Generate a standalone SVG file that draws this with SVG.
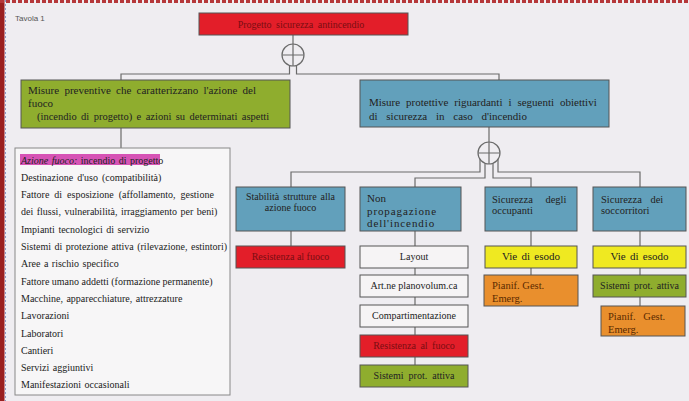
<svg xmlns="http://www.w3.org/2000/svg" width="689" height="401" viewBox="0 0 689 401">
<defs>
<style>
.box{stroke:#555;stroke-width:1}
.red{fill:#e31e29}
.green{fill:#8fad2e}
.blue{fill:#62a0bb}
.white{fill:#f6f4f5}
.yellow{fill:#efe921}
.orange{fill:#e98f2d}
.t{font-family:"Liberation Serif","Times New Roman",serif;font-size:10px;fill:#222}
.m{text-anchor:middle}
.dr{fill:#7a0d12}
.br{fill:#5a2a00}
.li{word-spacing:1px}
.ln{fill:none;stroke:#6a6a6a;stroke-width:1.2}
</style>
</defs>
<rect x="0" y="0" width="689" height="401" fill="#efedf1"/>
<rect x="0" y="0" width="4.5" height="401" fill="#9a1f1f"/>
<line x1="5.5" y1="0" x2="5.5" y2="401" stroke="#8c9ac8" stroke-width="1" stroke-dasharray="2,2"/>
<line x1="0" y1="1.5" x2="689" y2="1.5" stroke="#b5373a" stroke-width="3" stroke-dasharray="4,2"/>
<text x="15" y="21" font-family="Liberation Sans, Arial, sans-serif" font-size="8" fill="#555">Tavola 1</text>

<g id="connectors">
<path class="ln" d="M293,35 V44"/>
<circle class="ln" cx="293" cy="55" r="11"/>
<path class="ln" d="M282,55 H304 M293,44 V66"/>
<path class="ln" d="M289.5,65.4 V74 H121 V80"/>
<path class="ln" d="M296.5,65.4 V74 H499 V80"/>
<path class="ln" d="M121,128 V148"/>
<path class="ln" d="M489,127 V142"/>
<circle class="ln" cx="489" cy="153" r="11"/>
<path class="ln" d="M478,153 H500 M489,142 V164"/>
<path class="ln" d="M480,159.3 V172 H291 V187"/>
<path class="ln" d="M485,163.2 V178 H415 V187"/>
<path class="ln" d="M493,163.2 V178 H531 V187"/>
<path class="ln" d="M498,159.3 V172 H640 V187"/>
<path class="ln" d="M291,231 V246"/>
<path class="ln" d="M415,231 V365"/>
<path class="ln" d="M531,231 V275"/>
<path class="ln" d="M640,231 V306"/>
</g>

<g id="n-progetto">
<rect class="box red" x="199" y="13" width="209" height="22"/>
<text class="t m dr" x="301" y="27.5" style="word-spacing:2px">Progetto sicurezza antincendio</text>
</g>

<g id="n-preventive">
<rect class="box green" x="21" y="80" width="269" height="48"/>
<text class="t" x="28" y="94" style="font-size:11px;word-spacing:2.5px">Misure preventive che caratterizzano l'azione del</text>
<text class="t" x="28" y="107" style="font-size:11px">fuoco</text>
<text class="t" x="37" y="120" style="font-size:10.5px;word-spacing:1.8px">(incendio di progetto) e azioni su determinati aspetti</text>
</g>

<g id="n-protettive">
<rect class="box blue" x="360" y="80" width="249" height="47"/>
<text class="t" x="369" y="106" style="font-size:11px;word-spacing:3.2px">Misure protettive riguardanti i seguenti obiettivi</text>
<text class="t" x="369" y="120" style="font-size:11px;word-spacing:6px">di sicurezza in caso d'incendio</text>
</g>

<g id="n-lista">
<rect x="15" y="148" width="215" height="247" fill="#f7f6f7" stroke="#888" stroke-width="1"/>
<rect x="20" y="154" width="140" height="11" fill="#d653b5"/>
<text class="t li" x="21" y="163.5"><tspan font-style="italic">Azione fuoco:</tspan> incendio di progetto</text>
<text class="t li" x="21" y="180.8" style="word-spacing:1.5px">Destinazione d'uso (compatibilità)</text>
<text class="t li" x="21" y="198.1" style="word-spacing:2.5px">Fattore di esposizione (affollamento, gestione</text>
<text class="t li" x="21" y="215.4">dei flussi, vulnerabilità, irraggiamento per beni)</text>
<text class="t li" x="21" y="232.7">Impianti tecnologici di servizio</text>
<text class="t li" x="21" y="250">Sistemi di protezione attiva (rilevazione, estintori)</text>
<text class="t li" x="21" y="267.3">Aree a rischio specifico</text>
<text class="t li" x="21" y="284.6" style="word-spacing:0">Fattore umano addetti (formazione permanente)</text>
<text class="t li" x="21" y="301.9">Macchine, apparecchiature, attrezzature</text>
<text class="t li" x="21" y="319.2">Lavorazioni</text>
<text class="t li" x="21" y="336.5">Laboratori</text>
<text class="t li" x="21" y="353.8">Cantieri</text>
<text class="t li" x="21" y="371.1">Servizi aggiuntivi</text>
<text class="t li" x="21" y="388.4">Manifestazioni occasionali</text>
</g>

<g id="n-stabilita">
<rect class="box blue" x="236" y="187" width="109" height="44"/>
<text class="t m" x="290.5" y="200" style="word-spacing:1.5px">Stabilità strutture alla</text>
<text class="t m" x="290.5" y="211">azione fuoco</text>
</g>
<g id="n-nonprop">
<rect class="box blue" x="360" y="187" width="101" height="44"/>
<text class="t" x="367" y="202" style="font-size:11px">Non</text>
<text class="t" x="367" y="214.5" style="font-size:11px;letter-spacing:0.9px">propagazione</text>
<text class="t" x="367" y="227" style="font-size:11px;letter-spacing:0.9px">dell'incendio</text>
</g>
<g id="n-occupanti">
<rect class="box blue" x="485" y="187" width="92" height="44"/>
<text class="t" x="492" y="203" style="font-size:10.5px;word-spacing:10px">Sicurezza degli</text>
<text class="t" x="492" y="214" style="font-size:10.5px">occupanti</text>
</g>
<g id="n-soccorritori">
<rect class="box blue" x="593" y="187" width="93" height="44"/>
<text class="t" x="601" y="203" style="font-size:10.5px;word-spacing:6px">Sicurezza dei</text>
<text class="t" x="601" y="214" style="font-size:10.5px">soccorritori</text>
</g>

<g id="n-resA">
<rect class="box red" x="236" y="246" width="109" height="22"/>
<text class="t m dr" x="290.5" y="260">Resistenza al fuoco</text>
</g>
<g id="n-layout">
<rect class="box white" x="360" y="246" width="108" height="22"/>
<text class="t m" x="414" y="260">Layout</text>
</g>
<g id="n-artne">
<rect class="box white" x="360" y="275" width="108" height="22"/>
<text class="t m" x="414" y="289">Art.ne planovolum.ca</text>
</g>
<g id="n-compart">
<rect class="box white" x="360" y="305" width="108" height="22"/>
<text class="t m" x="414" y="319">Compartimentazione</text>
</g>
<g id="n-resB">
<rect class="box red" x="360" y="335" width="108" height="22"/>
<text class="t m dr" x="414" y="349" style="word-spacing:2px">Resistenza al fuoco</text>
</g>
<g id="n-sistB">
<rect class="box green" x="360" y="365" width="108" height="22"/>
<text class="t m" x="414" y="379" style="word-spacing:2.5px">Sistemi prot. attiva</text>
</g>

<g id="n-vieC">
<rect class="box yellow" x="485" y="246" width="92" height="22"/>
<text class="t m" x="531" y="260" style="font-size:11px;word-spacing:1.5px">Vie di esodo</text>
</g>
<g id="n-pianC">
<rect class="box orange" x="484" y="275" width="94" height="31"/>
<text class="t br" x="492" y="289" style="font-size:10.5px">Pianif. Gest.</text>
<text class="t br" x="492" y="302" style="font-size:10.5px">Emerg.</text>
</g>

<g id="n-vieD">
<rect class="box yellow" x="593" y="246" width="93" height="22"/>
<text class="t m" x="639.5" y="260" style="font-size:11px;word-spacing:1.5px">Vie di esodo</text>
</g>
<g id="n-sistD">
<rect class="box green" x="593" y="275" width="93" height="22"/>
<text class="t m" x="639.5" y="289" style="word-spacing:1.5px">Sistemi prot. attiva</text>
</g>
<g id="n-pianD">
<rect class="box orange" x="601" y="306" width="84" height="30"/>
<text class="t br" x="608" y="320" style="font-size:10.5px;word-spacing:5px">Pianif. Gest.</text>
<text class="t br" x="608" y="333" style="font-size:10.5px">Emerg.</text>
</g>
</svg>
